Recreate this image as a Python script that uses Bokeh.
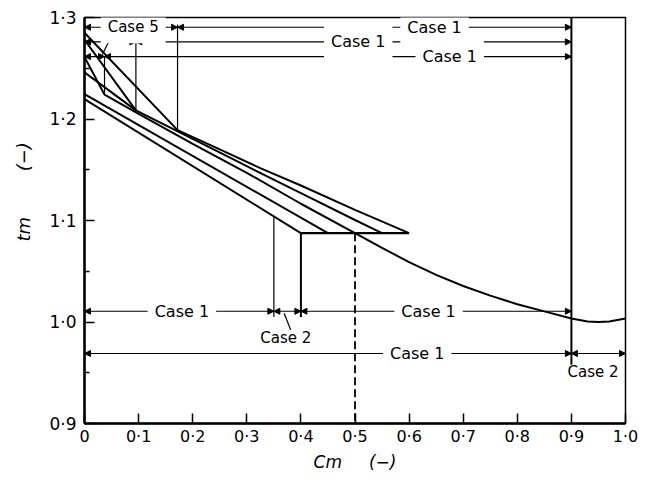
from bokeh.plotting import figure
from bokeh.models import Arrow, NormalHead, Label, FixedTicker, ColumnDataSource, Range1d
from bokeh.core.properties import value
from bokeh.embed import file_html
from bokeh.resources import INLINE

# ---------------- data ----------------
# lowest straight line (ends at Cm=0.4 on the plateau)
low_x = [0.0, 0.4]
low_t = [1.2195, 1.0875]
# second straight line (ends at Cm=0.45)
b_x = [0.0, 0.45]
b_t = [1.2245, 1.0875]
# main curve: steep case-5 start, then long curve down to 1.0
main_x = [0.0, 0.037, 0.1, 0.2, 0.3, 0.4, 0.5, 0.55, 0.6, 0.65, 0.7, 0.75, 0.8, 0.85, 0.9, 0.93, 0.95, 0.97, 1.0]
main_t = [1.261, 1.224, 1.205, 1.1755, 1.147, 1.1165, 1.0875, 1.073, 1.059, 1.0465, 1.0355, 1.026,
          1.0175, 1.0105, 1.0035, 1.0005, 1.0, 1.0005, 1.0035]
# case-5 line to Cm=0.095 then curve to 0.55
c2_x = [0.0, 0.095, 0.2, 0.3, 0.4, 0.5, 0.55]
c2_t = [1.278, 1.2085, 1.1805, 1.1535, 1.127, 1.1005, 1.0875]
# case-5 line to Cm=0.172 then curve to 0.6
c1_x = [0.0, 0.172, 0.25, 0.326, 0.4, 0.5, 0.6]
c1_t = [1.285, 1.189, 1.170, 1.1513, 1.1345, 1.1105, 1.0875]
# extra steep line
c4_x = [0.0, 0.095]
c4_t = [1.246, 1.2085]
# plateau
plat_x = [0.4, 0.6]
plat_t = [1.0875, 1.0875]

# vertical markers: x, bottom t, top t, width
vert_x = [0.037, 0.095, 0.172, 0.35, 0.4, 0.9]
vert_t0 = [1.224, 1.2085, 1.189, 1.104, 1.0875, 0.958]
vert_t1 = [1.2615, 1.279, 1.293, 1.005, 1.005, 1.3]
vert_w = [1.2, 1.2, 1.2, 1.2, 2.0, 2.0]
# dashed vertical
dash_x = [0.5, 0.5]
dash_t = [1.0875, 0.9]

# arrow rows
arr_x0 = [0.0, 0.172, 0.0, 0.095, 0.0, 0.037, 0.0, 0.35, 0.4, 0.0, 0.9]
arr_x1 = [0.172, 0.9, 0.095, 0.9, 0.037, 0.9, 0.35, 0.4, 0.9, 0.9, 1.0]
arr_t = [1.2904, 1.2904, 1.276, 1.276, 1.2615, 1.2615, 1.0106, 1.0106, 1.0106, 0.969, 0.969]

# labels on arrow rows
lab_text = ["Case 5", "Case 1", "Case 1", "Case 1", "Case 1", "Case 1", "Case 1"]
lab_x = [0.09, 0.647, 0.506, 0.675, 0.18, 0.636, 0.615]
lab_t = [1.2904, 1.2904, 1.276, 1.2615, 1.0106, 1.0106, 0.969]
lab_size = ["15px", "16px", "16px", "16px", "16px", "16px", "16px"]
# free labels
case2_text = ["Case 2", "Case 2"]
case2_x = [0.372, 0.94]
case2_t = [0.9846, 0.951]
# leader lines
lead_x0 = [0.057, 0.369]
lead_t0 = [1.2894, 1.0087]
lead_x1 = [0.033, 0.381]
lead_t1 = [1.2635, 0.9923]

x_ticks = [0.0, 0.1, 0.2, 0.3, 0.4, 0.5, 0.6, 0.7, 0.8, 0.9, 1.0]
x_tick_labels = ["0", "0·1", "0·2", "0·3", "0·4", "0·5", "0·6", "0·7", "0·8", "0·9", "1·0"]
y_ticks = [0.9, 1.0, 1.1, 1.2, 1.3]
y_minor = [0.95, 1.05, 1.15, 1.25]
y_tick_labels = ["0·9", "1·0", "1·1", "1·2", "1·3"]

FONT = "DejaVu Sans"
NB = "\u00a0"

p = figure(width=650, height=474, x_range=Range1d(0, 1), y_range=Range1d(0.9, 1.3),
           output_backend="svg", toolbar_location=None,
           min_border_left=84, min_border_right=25, min_border_top=17, min_border_bottom=45)
p.xgrid.visible = False
p.ygrid.visible = False
p.outline_line_color = "black"
p.outline_line_width = 1.5
p.background_fill_color = "white"
p.border_fill_color = "white"

for ax in (p.xaxis[0], p.yaxis[0]):
    ax.axis_line_width = 2.5
    ax.major_tick_in = 10
    ax.major_tick_out = 0
    ax.minor_tick_in = 5
    ax.minor_tick_out = 0
    ax.major_tick_line_width = 1.5
    ax.minor_tick_line_width = 1.5
    ax.major_label_text_font = FONT
    ax.major_label_text_font_size = "17px"
    ax.major_label_text_color = "black"
    ax.axis_label_text_font = FONT
    ax.axis_label_text_font_size = "18px"
    ax.axis_label_text_font_style = "italic"
    ax.axis_label_text_color = "black"

p.xaxis.ticker = FixedTicker(ticks=x_ticks, minor_ticks=[])
p.xaxis.major_label_overrides = dict(zip(x_ticks, x_tick_labels))
p.xaxis.major_label_standoff = 3
p.xaxis.major_label_text_font_size = "16px"
p.xaxis.axis_label = "Cm" + NB * 5 + "(−)"
p.xaxis.axis_label_standoff = 3
p.xaxis.axis_label_text_font_size = "17px"

p.yaxis.ticker = FixedTicker(ticks=y_ticks, minor_ticks=y_minor)
p.yaxis.major_label_overrides = dict(zip(y_ticks, y_tick_labels))
p.yaxis.major_label_standoff = 8
p.yaxis.major_label_orientation = "horizontal"
p.yaxis.axis_label = NB * 10 + "tm" + NB * 8 + "(−)"
p.yaxis.axis_label_standoff = 12

# curves
for xs, ts in [(low_x, low_t), (b_x, b_t), (main_x, main_t), (c2_x, c2_t), (c1_x, c1_t), (c4_x, c4_t)]:
    p.line(xs, ts, line_color="black", line_width=2)
p.line(plat_x, plat_t, line_color="black", line_width=2.2)

for x, t0, t1, w in zip(vert_x, vert_t0, vert_t1, vert_w):
    p.line([x, x], [t0, t1], line_color="black", line_width=w)
p.line(dash_x, dash_t, line_color="black", line_width=1.8, line_dash="8 4")

# leaders
p.segment(x0=lead_x0, y0=lead_t0, x1=lead_x1, y1=lead_t1, line_color="black", line_width=1.2)

# arrows
asrc = ColumnDataSource(dict(x0=arr_x0, x1=arr_x1, t=arr_t))
p.add_layout(Arrow(source=asrc, x_start="x0", y_start="t", x_end="x1", y_end="t",
                   line_color="black", line_width=1.1,
                   start=NormalHead(size=6, fill_color="black", line_color="black"),
                   end=NormalHead(size=6, fill_color="black", line_color="black")))

for txt, x, t, sz in zip(lab_text, lab_x, lab_t, lab_size):
    lbl = Label(x=x, y=t, text=txt, text_align="center", text_baseline="middle",
                text_font=FONT, text_font_size=sz, text_color="black",
                background_fill_color="white")
    try:
        lbl.padding = 7
    except Exception:
        pass
    p.add_layout(lbl)

p.text(x=case2_x, y=case2_t, text=case2_text, text_align="center", text_baseline="middle",
       text_font=value(FONT), text_font_size="15px", text_color="black")

open("out.html", "w").write(file_html(p, INLINE))
